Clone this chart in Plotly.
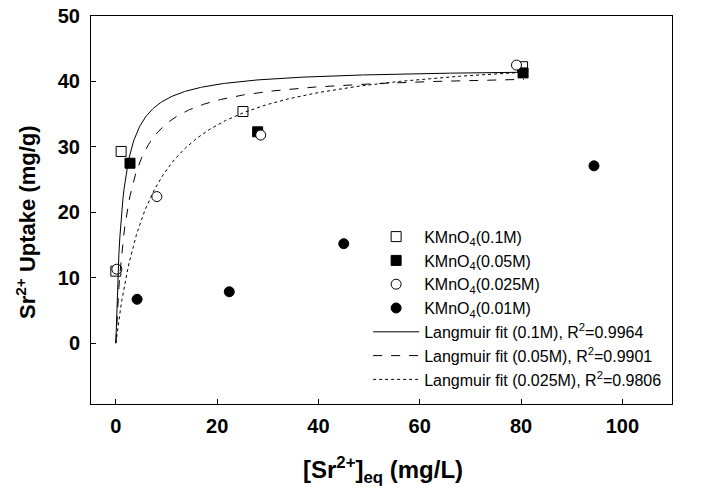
import numpy as np
import plotly.graph_objects as go

# ---- data ----
x_01 = [0.0, 1.05, 25.1, 80.3]
y_01 = [11.0, 29.3, 35.4, 42.25]

x_005 = [2.8, 28.0, 80.4]
y_005 = [27.5, 32.3, 41.3]

x_0025 = [0.2, 8.1, 28.6, 79.1]
y_0025 = [11.3, 22.4, 31.8, 42.5]

x_001 = [4.2, 22.4, 45.0, 94.4]
y_001 = [6.7, 7.85, 15.2, 27.1]

# Langmuir fit parameters (qm, K) estimated from the drawn curves
fit_01 = (42.06, 0.785)
fit_005 = (41.5, 0.422)
fit_0025 = (45.0, 0.143)
fit_cmax = 80.6

x_ticks = [0, 20, 40, 60, 80, 100]
y_ticks = [0, 10, 20, 30, 40, 50]

labels_pts = ["KMnO<sub>4</sub>(0.1M)", "KMnO<sub>4</sub>(0.05M)",
              "KMnO<sub>4</sub>(0.025M)", "KMnO<sub>4</sub>(0.01M)"]
labels_fit = ["Langmuir fit (0.1M), R<sup>2</sup>=0.9964",
              "Langmuir fit (0.05M), R<sup>2</sup>=0.9901",
              "Langmuir fit (0.025M), R<sup>2</sup>=0.9806"]

FONT = "Arial, Liberation Sans, sans-serif"

def langmuir(c, p):
    qm, k = p
    return qm * k * c / (1 + k * c)

c_grid = np.linspace(0, fit_cmax, 400)

fig = go.Figure()

def pts(x, y, name, symbol, fill):
    fig.add_trace(go.Scatter(
        x=x, y=y, mode="markers", name=name,
        marker=dict(symbol=symbol, size=10, color=fill,
                    line=dict(color="black", width=1)),
        cliponaxis=False))

pts(x_01, y_01, labels_pts[0], "square", "white")
pts(x_005, y_005, labels_pts[1], "square", "black")
pts(x_0025, y_0025, labels_pts[2], "circle", "white")
pts(x_001, y_001, labels_pts[3], "circle", "black")

for p, name, dash in [(fit_01, labels_fit[0], "solid"),
                      (fit_005, labels_fit[1], "dash"),
                      (fit_0025, labels_fit[2], "dot")]:
    fig.add_trace(go.Scatter(
        x=c_grid, y=langmuir(c_grid, p), mode="lines", name=name,
        line=dict(color="black", width=1, dash=dash)))

axis_common = dict(
    showgrid=False, zeroline=False, showline=True, linecolor="black",
    linewidth=1, mirror=True, ticks="inside", ticklen=5, tickcolor="black",
    tickwidth=1, ticklabeloverflow="allow", automargin=False,
    tickfont=dict(family=FONT, size=20, color="black", weight="bold"),
)

fig.update_xaxes(range=[-4.9, 109.8], tickvals=x_ticks,
                 ticklabelstandoff=4, **axis_common)
fig.update_yaxes(range=[-9.3, 50], tickvals=y_ticks,
                 ticklabelstandoff=6, **axis_common)

# page body has an 8px default margin: compensate so the plot sits like the reference
fig.update_layout(
    width=704, height=489,
    margin=dict(l=83, r=40, t=8, b=93),
    paper_bgcolor="white", plot_bgcolor="white",
    showlegend=True,
    legend=dict(x=0.477, y=0.475, xanchor="left", yanchor="top",
                bgcolor="rgba(0,0,0,0)", borderwidth=0,
                font=dict(family=FONT, size=16, color="black"),
                itemwidth=46, tracegroupgap=0),
    annotations=[
        dict(text="[Sr<sup>2+</sup>]<sub>eq</sub> (mg/L)", xref="paper",
             yref="paper", x=0.503, y=-0.17, xanchor="center", yanchor="middle",
             showarrow=False,
             font=dict(family=FONT, size=24, color="black", weight="bold")),
        dict(text="Sr<sup>2+</sup> Uptake (mg/g)", xref="paper", yref="paper",
             x=-0.113, y=0.47, xanchor="center", yanchor="middle",
             textangle=-90, showarrow=False,
             font=dict(family=FONT, size=22, color="black", weight="bold")),
    ],
)

fig.write_html("out.html")
